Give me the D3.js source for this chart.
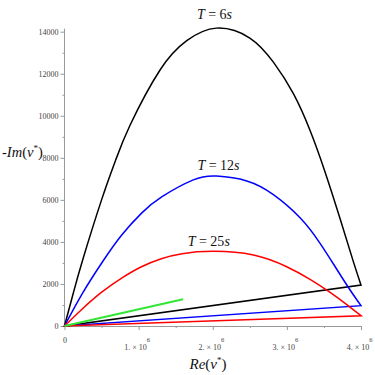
<!DOCTYPE html>
<html>
<head>
<meta charset="utf-8">
<script src="https://cdn.jsdelivr.net/npm/d3@7"></script>
<style>
  body { margin: 0; background: #fff; }
  .tick text { font-family: "Liberation Serif", serif; font-size: 8px; fill: #444; }
  .tick line, .domain { stroke: #999; }
  .math { font-family: "Liberation Serif", serif; fill: #111; }
</style>
</head>
<body>
<div id="plot"></div>
<script>
// Re(v*) in units of 10^6, -Im(v*)
var re6  = [0, 0.12, 0.245, 0.5, 0.686, 0.884, 1.289, 1.649, 2.05, 2.5, 2.818, 3.088, 3.313, 3.506, 3.718, 3.898, 4.0];
var im6  = [0, 1580, 3140, 6000, 7850, 9550, 12179, 13573, 14170, 13700, 12550, 11050, 9300, 7421, 5100, 3050, 1950];

var re12 = [0, 0.25, 0.529, 0.772, 1.04, 1.316, 1.738, 2.05, 2.459, 2.818, 3.178, 3.448, 3.673, 3.853, 4.0];
var im12 = [0, 1600, 3140, 4329, 5370, 6151, 6950, 7130, 6900, 6250, 5150, 3934, 2700, 1713, 966];

var re25 = [0, 0.236, 0.506, 0.776, 1.046, 1.316, 1.586, 2.0, 2.548, 2.998, 3.313, 3.583, 3.808, 4.0];
var im25 = [0, 800, 1620, 2290, 2830, 3210, 3440, 3550, 3378, 2821, 2220, 1600, 1020, 490];

var reGreen = [0, 1.6];
var imGreen = [0, 1270];

var seriesNames  = ["6", "12", "25", "green"];
var seriesColors = ["#000000", "#0000ff", "#ff0000", "#33e633"];

var yMajor = [0, 2000, 4000, 6000, 8000, 10000, 12000, 14000];
var yMinor = [1000, 3000, 5000, 7000, 9000, 11000, 13000];
var xMajor = [0, 1, 2, 3, 4];
var xMinor = [0.5, 1.5, 2.5, 3.5];

// set the dimensions and margins of the graph
var margin = {top: 31.7, right: 14, bottom: 49, left: 64.5},
    width = 375 - margin.left - margin.right,
    height = 375 - margin.top - margin.bottom;

var x = d3.scaleLinear().domain([0, 4]).range([0, 296.5]);
var y = d3.scaleLinear().domain([0, 14000]).range([294.3, 0]);

var svg = d3.select("#plot").append("svg")
    .attr("width", 375)
    .attr("height", 375)
  .append("g")
    .attr("transform", "translate(" + margin.left + "," + margin.top + ")");

// minor ticks
svg.append("g")
    .attr("transform", "translate(0," + y(0) + ")")
    .call(d3.axisBottom(x).tickValues(xMinor).tickSize(2).tickFormat(""))
    .call(function(g) { g.select(".domain").remove(); });
svg.append("g")
    .call(d3.axisLeft(y).tickValues(yMinor).tickSize(2).tickFormat(""))
    .call(function(g) { g.select(".domain").remove(); });

// Y axis
svg.append("g")
    .call(d3.axisLeft(y).tickValues(yMajor).tickSize(4).tickSizeOuter(0).tickPadding(2).tickFormat(d3.format("d")))
    .call(function(g) { g.select(".domain").attr("d", "M0," + y(0) + "V" + (y(14000) - 3)); });

// X axis with "n. × 10^6" labels
var xAxis = svg.append("g")
    .attr("transform", "translate(0," + y(0) + ")")
    .call(d3.axisBottom(x).tickValues(xMajor).tickSize(4).tickSizeOuter(0).tickFormat(""));

xAxis.selectAll(".tick").each(function(d) {
  var t = d3.select(this).append("text").attr("text-anchor", "middle");
  if (d === 0) {
    t.attr("y", 17).text("0");
  } else {
    t.attr("y", 23.5).attr("dx", -2).text(d + ". \u00d7 10");
    t.append("tspan").attr("dy", -8).attr("font-size", 6.5).text("6");
  }
});

// curves: arc through the points, then straight back to the origin
var line = d3.line()
    .x(function(d) { return x(d[0]); })
    .y(function(d) { return y(d[1]); })
    .curve(d3.curveNatural);

var sets = [
  {re: re6, im: im6, closed: true},
  {re: re12, im: im12, closed: true},
  {re: re25, im: im25, closed: true},
  {re: reGreen, im: imGreen, closed: false}
];

sets.forEach(function(s, i) {
  var pts = s.re.map(function(r, j) { return [r, s.im[j]]; });
  svg.append("path")
      .attr("d", line(pts) + (s.closed ? "Z" : ""))
      .attr("fill", "none")
      .attr("stroke", seriesColors[i])
      .attr("stroke-width", i === 3 ? 2 : 1.5)
      .attr("stroke-linejoin", "miter");
});

// T = ... labels above each peak
var labelDy = [-9.5, -6, -5.5];
var labelDx = [-2, 2, -4];
[0, 1, 2].forEach(function(i) {
  var s = sets[i];
  var k = d3.maxIndex(s.im);
  var t = svg.append("text")
      .attr("class", "math")
      .attr("x", x(s.re[k]) + labelDx[i])
      .attr("y", y(s.im[k]) + labelDy[i])
      .attr("text-anchor", "middle")
      .attr("font-size", 14);
  t.append("tspan").attr("font-style", "italic").text("T");
  t.append("tspan").text(" = " + seriesNames[i]);
  t.append("tspan").attr("font-style", "italic").text("s");
});

// axis titles
var yt = svg.append("text")
    .attr("class", "math")
    .attr("x", 2 - margin.left)
    .attr("y", 157 - margin.top)
    .attr("font-size", 14.5);
yt.append("tspan").text("-");
yt.append("tspan").attr("font-style", "italic").text("Im");
yt.append("tspan").text("(");
yt.append("tspan").attr("font-style", "italic").text("v");
yt.append("tspan").attr("dy", -6).attr("font-size", 9).text("*");
yt.append("tspan").attr("dy", 6).text(")");

var xt = svg.append("text")
    .attr("class", "math")
    .attr("x", 208 - margin.left)
    .attr("y", 369 - margin.top)
    .attr("text-anchor", "middle")
    .attr("font-size", 15);
xt.append("tspan").attr("font-style", "italic").text("Re");
xt.append("tspan").text("(");
xt.append("tspan").attr("font-style", "italic").text("v");
xt.append("tspan").attr("dy", -6).attr("font-size", 9).text("*");
xt.append("tspan").attr("dy", 6).text(")");
</script>
</body>
</html>
